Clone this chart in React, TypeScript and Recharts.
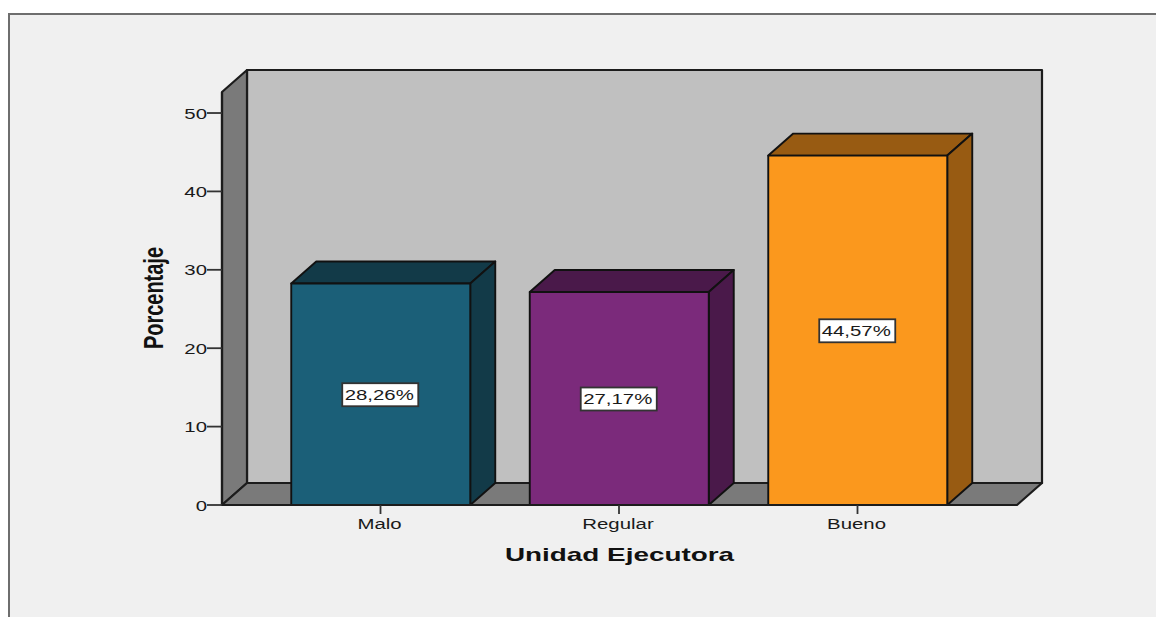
import React from 'react';
import { BarChart, Bar, XAxis, YAxis, ReferenceArea, LabelList, Label } from 'recharts';

const categories = ['Malo', 'Regular', 'Bueno'];
const percentages = [28.26, 27.17, 44.57];
const percentLabels = ['28,26%', '27,17%', '44,57%'];
const yTicks = [0, 10, 20, 30, 40, 50];
const yMax = 52.68;
const xTitle = 'Unidad Ejecutora';
const yTitle = 'Porcentaje';

const frontColors = ['#1b5f78', '#7b2a7b', '#fb981d'];
const darkColors = ['#123a48', '#4a194a', '#985b12'];

const chartData = categories.map((name, i) => ({ name, value: percentages[i], label: percentLabels[i] }));

const DX = 25;
const DY = 22;
const PAD_L = 39.25;
const PAD_R = 40.25;
const FONT = '"Liberation Sans", Arial, sans-serif';
const INK = '#1c1c1c';
const TEXT = '#1a1a1a';
const SX = 1.36;

const pts = (a: number[][]) => a.map((p) => p.join(',')).join(' ');

const Walls = ({ x: rawX, y, width, height }: any) => {
  const x = rawX - PAD_L;
  const b = y + height;
  const r = rawX + width + PAD_R;
  const common = { stroke: INK, strokeWidth: 2.2, strokeLinejoin: 'round' as const };
  return (
    <g>
      <polygon points={pts([[x + DX, y - DY], [r + DX, y - DY], [r + DX, b - DY], [x + DX, b - DY]])} fill="#c0c0c0" {...common} />
      <polygon points={pts([[x, b], [x + DX, b - DY], [x + DX, y - DY], [x, y]])} fill="#7a7a7a" {...common} />
      <polygon points={pts([[x, b], [r, b], [r + DX, b - DY], [x + DX, b - DY]])} fill="#7a7a7a" {...common} />
    </g>
  );
};

const Bar3D = ({ x, y, width, height, index }: any) => {
  const r = x + width;
  const b = y + height;
  const common = { stroke: '#111', strokeWidth: 1.9, strokeLinejoin: 'round' as const };
  return (
    <g>
      <polygon points={pts([[x, y], [r, y], [r + DX, y - DY], [x + DX, y - DY]])} fill={darkColors[index]} {...common} />
      <polygon points={pts([[r, y], [r + DX, y - DY], [r + DX, b - DY], [r, b]])} fill={darkColors[index]} {...common} />
      <rect x={x} y={y} width={width} height={height} fill={frontColors[index]} {...common} />
    </g>
  );
};

const ValueBox = ({ x, y, width, height, index }: any) => {
  const cx = x + width / 2;
  const cy = y + height / 2;
  return (
    <g>
      <rect x={cx - 38.5} y={cy - 11} width={76} height={23} fill="#fff" stroke="#333" strokeWidth={1.8} />
      <text
        transform={`translate(${cx - 1.5},${cy + 6}) scale(${SX},1)`}
        textAnchor="middle"
        fontFamily={FONT}
        fontSize={15}
        fill={TEXT}
      >
        {percentLabels[index]}
      </text>
    </g>
  );
};

const YTick = ({ x, y, payload }: any) => (
  <text
    transform={`translate(${x},${y + 5.5}) scale(${SX},1)`}
    textAnchor="end"
    fontFamily={FONT}
    fontSize={15}
    fill={TEXT}
  >
    {payload.value}
  </text>
);

const XTick = ({ x, y, payload }: any) => (
  <text
    transform={`translate(${x - 1},${y + 15}) scale(${SX},1)`}
    textAnchor="middle"
    fontFamily={FONT}
    fontSize={15}
    fill={TEXT}
  >
    {payload.value}
  </text>
);

const XTitle = () => (
  <text
    x={505}
    y={561}
    textLength={229}
    lengthAdjust="spacingAndGlyphs"
    fontFamily={FONT}
    fontWeight="bold"
    fontSize={19}
    fill="#111"
  >
    {xTitle}
  </text>
);

const YTitle = () => (
  <text
    transform="translate(163,349) rotate(-90)"
    textLength={102}
    lengthAdjust="spacingAndGlyphs"
    fontFamily={FONT}
    fontWeight="bold"
    fontSize={27}
    fill="#111"
  >
    {yTitle}
  </text>
);

export default function App() {
  return (
    <div style={{ position: 'absolute', left: 0, top: 0, width: 1156, height: 617, background: '#fff', overflow: 'hidden' }}>
      <div
        style={{
          position: 'absolute',
          left: 8,
          top: 13,
          right: 0,
          bottom: 0,
          background: '#f0f0f0',
          borderTop: '2px solid #6e6e6e',
          borderLeft: '2px solid #6e6e6e',
        }}
      />
      <div style={{ position: 'absolute', left: 0, top: 0 }}>
        <BarChart
          width={1156}
          height={617}
          data={chartData}
          margin={{ top: 92, right: 139, bottom: 32, left: 142 }}
          barCategoryGap={0}
        >
          <ReferenceArea y1={0} y2={yMax} shape={<Walls />} ifOverflow="visible" />
          <XAxis
            dataKey="name"
            height={80}
            interval={0}
            padding={{ left: PAD_L, right: PAD_R }}
            tickSize={9}
            tickMargin={0}
            tick={<XTick />}
            tickLine={{ stroke: '#333', strokeWidth: 1.8 }}
            axisLine={{ stroke: INK, strokeWidth: 2.2 }}
          >
            <Label content={<XTitle />} />
          </XAxis>
          <YAxis
            type="number"
            width={80}
            domain={[0, yMax]}
            ticks={yTicks}
            interval={0}
            tickSize={15}
            tickMargin={0}
            tick={<YTick />}
            tickLine={{ stroke: '#333', strokeWidth: 1.8 }}
            axisLine={{ stroke: INK, strokeWidth: 2.2 }}
          >
            <Label content={<YTitle />} />
          </YAxis>
          <Bar dataKey="value" barSize={179} shape={<Bar3D />} isAnimationActive={false}>
            <LabelList dataKey="label" content={<ValueBox />} />
          </Bar>
        </BarChart>
      </div>
    </div>
  );
}
